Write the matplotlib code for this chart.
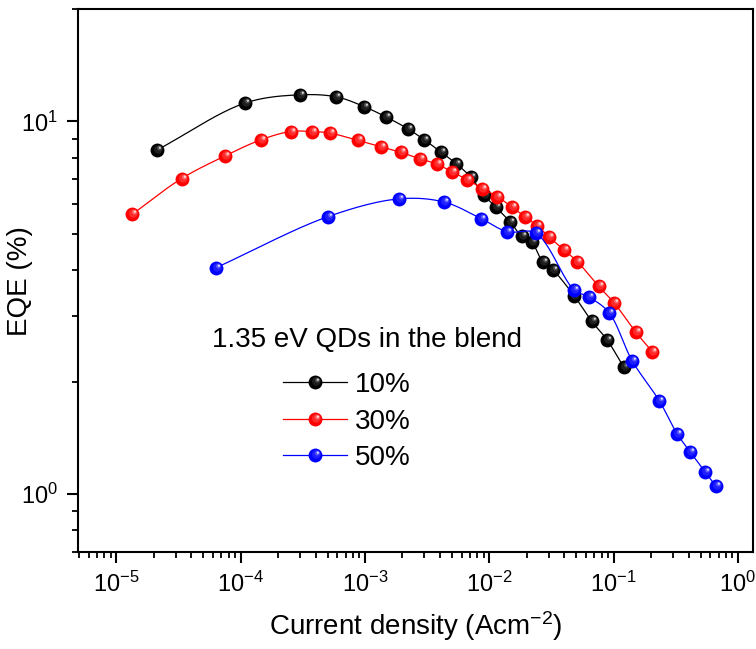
import numpy as np
import matplotlib
matplotlib.use("Agg")
import matplotlib.pyplot as plt
from matplotlib.path import Path
from matplotlib.ticker import LogLocator, NullFormatter
from matplotlib.legend_handler import HandlerTuple

# Data (current density in A/cm2, EQE in %)
j_10 = [2.11e-5, 1.08e-4, 3.0e-4, 5.9e-4, 9.8e-4, 1.48e-3, 2.21e-3, 3.0e-3, 4.06e-3,
        5.4e-3, 7.13e-3, 9.0e-3, 1.13e-2, 1.47e-2, 1.82e-2, 2.19e-2, 2.69e-2, 3.27e-2,
        4.80e-2, 6.67e-2, 8.81e-2, 0.121]
eqe_10 = [8.37, 11.2, 11.79, 11.64, 10.97, 10.28, 9.56, 8.93, 8.29,
          7.71, 7.08, 6.36, 5.89, 5.38, 4.92, 4.75, 4.20, 3.99,
          3.41, 2.91, 2.60, 2.19]

j_30 = [1.335e-5, 3.35e-5, 7.52e-5, 1.455e-4, 2.52e-4, 3.72e-4, 5.22e-4, 8.73e-4, 1.35e-3,
        1.95e-3, 2.77e-3, 3.77e-3, 4.97e-3, 6.65e-3, 8.79e-3, 1.16e-2, 1.53e-2, 1.93e-2,
        2.43e-2, 3.02e-2, 3.97e-2, 5.10e-2, 7.59e-2, 0.101, 0.151, 0.205]
eqe_30 = [5.63, 7.03, 8.09, 8.93, 9.40, 9.40, 9.31, 8.90, 8.55,
          8.26, 7.94, 7.69, 7.34, 6.98, 6.61, 6.29, 5.88, 5.56,
          5.25, 4.90, 4.53, 4.21, 3.61, 3.26, 2.72, 2.41]

j_50 = [6.32e-5, 5.07e-4, 1.88e-3, 4.33e-3, 8.57e-3, 1.40e-2, 2.36e-2, 4.78e-2,
        6.34e-2, 9.18e-2, 0.141, 0.233, 0.325, 0.412, 0.541, 0.667]
eqe_50 = [4.05, 5.56, 6.20, 6.08, 5.49, 5.06, 5.02, 3.54,
          3.38, 3.07, 2.28, 1.78, 1.45, 1.30, 1.15, 1.05]

labels = ["10%", "30%", "50%"]
legend_title = "1.35 eV QDs in the blend"

plt.rcParams['font.family'] = ['Liberation Sans', 'DejaVu Sans']
plt.rcParams['mathtext.fontset'] = 'custom'
plt.rcParams['mathtext.rm'] = 'Liberation Sans'
plt.rcParams['mathtext.it'] = 'Liberation Sans'
plt.rcParams['mathtext.default'] = 'regular'
plt.rcParams['axes.unicode_minus'] = False


def smooth(xv, yv, n=24, ratio=3.0):
    # centripetal Catmull-Rom through the points, in log-log space
    p = np.column_stack([np.log10(xv), np.log10(yv) * ratio])
    p = np.vstack([2 * p[0] - p[1], p, 2 * p[-1] - p[-2]])
    out = []
    for i in range(1, len(p) - 2):
        p0, p1, p2, p3 = p[i - 1:i + 3]
        t0 = 0.0
        t1 = t0 + np.linalg.norm(p1 - p0) ** 0.5
        t2 = t1 + np.linalg.norm(p2 - p1) ** 0.5
        t3 = t2 + np.linalg.norm(p3 - p2) ** 0.5
        t = np.linspace(t1, t2, n)[:, None]
        a1 = (t1 - t) / (t1 - t0) * p0 + (t - t0) / (t1 - t0) * p1
        a2 = (t2 - t) / (t2 - t1) * p1 + (t - t1) / (t2 - t1) * p2
        a3 = (t3 - t) / (t3 - t2) * p2 + (t - t2) / (t3 - t2) * p3
        b1 = (t2 - t) / (t2 - t0) * a1 + (t - t0) / (t2 - t0) * a2
        b2 = (t3 - t) / (t3 - t1) * a2 + (t - t1) / (t3 - t1) * a3
        out.append((t2 - t) / (t2 - t1) * b1 + (t - t1) / (t2 - t1) * b2)
    c = np.vstack(out)
    return 10 ** c[:, 0], 10 ** (c[:, 1] / ratio)


def spot(cx, cy, r):
    # circle marker offset from the centre; the corner moves keep the scale fixed
    box = Path([[-1, -1], [1, 1]], [Path.MOVETO, Path.MOVETO])
    circ = Path.circle((cx, cy), r)
    return Path.make_compound_path(box, circ)


shines = [spot(0.12, 0.16, 0.62), spot(0.28, 0.34, 0.34), spot(0.34, 0.40, 0.16)]

fig = plt.figure(figsize=(7.56, 6.49), dpi=100)
ax = fig.add_axes([0.1029, 0.1495, 0.8931, 0.8362])
ax.set_xscale('log')
ax.set_yscale('log')

series = [(j_10, eqe_10, 'black', ['#1e1e1e', '#505050', '#d0d0d0']),
          (j_30, eqe_30, 'red', ['#ff2a2a', '#ff6a6a', '#ffd8d8']),
          (j_50, eqe_50, 'blue', ['#1f1fff', '#5a5aff', '#d8d8ff'])]

ms = 10
handles = []
for i, (xv, yv, col, shades) in enumerate(series):
    sx, sy = smooth(xv, yv)
    z = 2 + i * 2
    ax.plot(sx, sy, color=col, lw=0.9, zorder=z)
    ax.plot(xv, yv, ls='none', marker='o', ms=ms, mfc=col, mec='none', zorder=z + 1)
    for path, sc in zip(shines, shades):
        ax.plot(xv, yv, ls='none', marker=path, ms=ms, mfc=sc, mec='none', zorder=z + 1)
    hline = plt.Line2D([], [], color=col, lw=0.9, marker='o', ms=ms, mfc=col, mec='none')
    extra = [plt.Line2D([], [], ls='none', marker=p, ms=ms, mfc=sc, mec='none')
             for p, sc in zip(shines, shades)]
    handles.append(tuple([hline] + extra))

ax.set_xlim(4.9e-6, 1.32)
ax.set_ylim(0.7, 20)

ax.xaxis.set_major_locator(LogLocator(base=10, numticks=12))
ax.xaxis.set_minor_locator(LogLocator(base=10, subs=np.arange(2, 10), numticks=12))
ax.yaxis.set_major_locator(LogLocator(base=10, numticks=12))
ax.yaxis.set_minor_locator(LogLocator(base=10, subs=np.arange(2, 10), numticks=12))
ax.xaxis.set_minor_formatter(NullFormatter())
ax.yaxis.set_minor_formatter(NullFormatter())

for s in ax.spines.values():
    s.set_linewidth(1.5)
ax.tick_params(which='major', length=8, width=1.5, labelsize=17, direction='out', pad=6)
ax.tick_params(which='minor', length=4, width=1.3, direction='out')
ax.tick_params(top=False, right=False)

ax.set_xlabel("Current density (Acm$^{-2}$)", fontsize=20, labelpad=9)
ax.set_ylabel("EQE (%)", fontsize=20)
ax.yaxis.set_label_coords(-0.066, 0.5)

fig.text(212 / 756, 1 - 340 / 649, legend_title, fontsize=20, ha='left', va='center')
ax.legend(handles, labels, handler_map={tuple: HandlerTuple(ndivide=1, pad=0)},
          loc='upper left', bbox_to_anchor=(283 / 756, 1 - 372 / 649),
          bbox_transform=fig.transFigure, frameon=False, fontsize=20,
          handlelength=2.3, handletextpad=0.3, labelspacing=0.38,
          borderpad=0, borderaxespad=0)

fig.savefig("out.png", dpi=100)
